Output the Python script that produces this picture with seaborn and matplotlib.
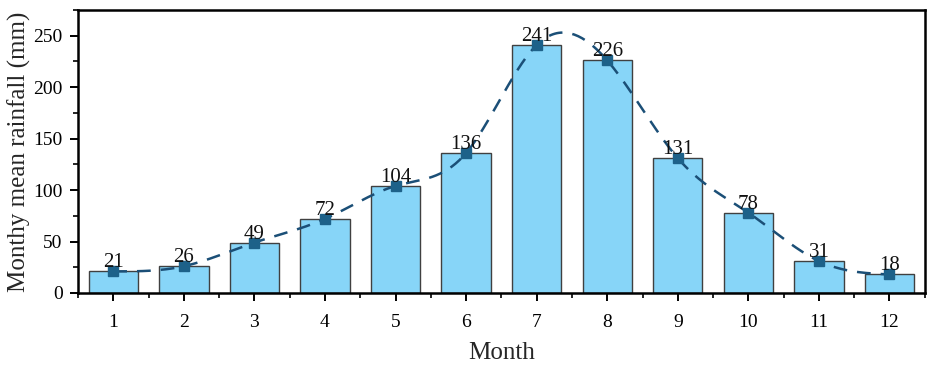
import numpy as np
import pandas as pd
import matplotlib
matplotlib.use("Agg")
import matplotlib.pyplot as plt
from matplotlib.ticker import MultipleLocator
import seaborn as sns

months = ["1", "2", "3", "4", "5", "6", "7", "8", "9", "10", "11", "12"]
rainfall = [21, 26, 49, 72, 104, 136, 241, 226, 131, 78, 31, 18]

sns.set_theme(style="ticks")
plt.rcParams["font.family"] = ["Liberation Serif", "DejaVu Serif"]

df = pd.DataFrame({"Month": months, "Rainfall": rainfall})

fig = plt.figure(figsize=(9.27, 3.66), dpi=100)
ax = fig.add_axes([0.0841, 0.1995, 0.9135, 0.7732])

sns.barplot(data=df, x="Month", y="Rainfall", color="#87D5F8", saturation=1,
            width=0.7, edgecolor="#404040", linewidth=1.0, ax=ax, zorder=2)


def natural_spline(x, y, n=400):
    x = np.asarray(x, float)
    y = np.asarray(y, float)
    k = len(x)
    h = np.diff(x)
    A = np.zeros((k, k))
    b = np.zeros(k)
    A[0, 0] = A[-1, -1] = 1
    for i in range(1, k - 1):
        A[i, i - 1] = h[i - 1]
        A[i, i] = 2 * (h[i - 1] + h[i])
        A[i, i + 1] = h[i]
        b[i] = 3 * ((y[i + 1] - y[i]) / h[i] - (y[i] - y[i - 1]) / h[i - 1])
    c = np.linalg.solve(A, b)
    xs = np.linspace(x[0], x[-1], n)
    idx = np.clip(np.searchsorted(x, xs) - 1, 0, k - 2)
    dx = xs - x[idx]
    bb = (y[idx + 1] - y[idx]) / h[idx] - h[idx] * (2 * c[idx] + c[idx + 1]) / 3
    d = (c[idx + 1] - c[idx]) / (3 * h[idx])
    ys = y[idx] + bb * dx + c[idx] * dx ** 2 + d * dx ** 3
    return xs, ys


pos = np.arange(len(months))
xs, ys = natural_spline(pos, rainfall)
ax.plot(xs, ys, color="#1B4F77", lw=1.8, dashes=(5.5, 4), zorder=3)
ax.plot(pos, rainfall, ls="none", marker="s", ms=7, color="#1D6189", zorder=4)

for p, v in zip(pos, rainfall):
    ax.text(p, v - 1, f"{v}", ha="center", va="bottom", fontsize=15, color="#111111", zorder=5)

ax.set_xlim(-0.5, 11.5)
ax.set_ylim(0, 275)
ax.yaxis.set_major_locator(MultipleLocator(50))
ax.yaxis.set_minor_locator(MultipleLocator(25))
ax.set_xticks(np.arange(-0.5, 12, 1.0), minor=True)

for s in ax.spines.values():
    s.set_visible(True)
    s.set_linewidth(1.8)
    s.set_color("black")

ax.tick_params(axis="both", which="major", direction="out", length=6, width=1.4,
               labelsize=14, colors="black", pad=5)
ax.tick_params(axis="both", which="minor", direction="out", length=3.5, width=1.2, colors="black")
ax.tick_params(axis="x", pad=9)

ax.set_xlabel("Month", fontsize=18, labelpad=8)
ax.set_ylabel("Monthy mean rainfall (mm)", fontsize=18, labelpad=2)

fig.savefig("out.png", dpi=100)
